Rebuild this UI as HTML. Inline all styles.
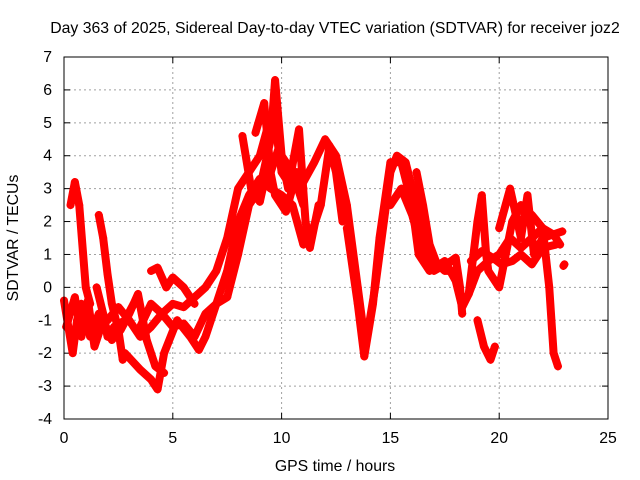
<!DOCTYPE html>
<html><head><meta charset="utf-8"><style>
body{margin:0;background:#fff}
svg{display:block;font-family:"Liberation Sans",sans-serif}
</style></head><body>
<svg id="chart" width="640" height="480" viewBox="0 0 640 480">
<text x="335" y="33" font-size="15.8" text-anchor="middle">Day 363 of 2025, Sidereal Day-to-day VTEC variation (SDTVAR) for receiver joz2</text>
<text x="335" y="471" font-size="15.8" text-anchor="middle">GPS time / hours</text>
<text transform="translate(18,238) rotate(-90)" font-size="15.8" text-anchor="middle">SDTVAR / TECUs</text>
<g id="grid"></g>
<g id="marks"></g>
<rect x="64" y="57" width="544" height="362" fill="none" stroke="#000" stroke-width="1"/>
</svg>
<script>
const xTicks=[0,5,10,15,20,25];
const yTicks=[-4,-3,-2,-1,0,1,2,3,4,5,6,7];
const s1=[[0,-0.4],[0.2,-1.2],[0.4,-2],[0.6,-1],[0.8,-0.5],[1.2,-1.5],[1.6,-0.8],[2,-1],[2.5,-0.6],[3,-1],[3.5,-1.5],[4,-1.2],[4.5,-0.8],[5,-0.5],[5.5,-0.6],[6,-0.3],[6.5,0],[7,0.5],[7.5,1.5],[8,3],[8.5,3.5],[9,4],[9.5,5.2],[9.8,4.5],[10,3.5],[10.5,3],[11,3.2],[11.5,3.8],[12,4.5],[12.5,4],[13,2.5],[13.5,0],[13.8,-1.5],[14,-1.2],[14.3,0],[14.7,2],[15,3.5],[15.3,4],[15.7,3.8],[16,3],[16.5,1.5],[17,0.8],[17.5,0.5],[18,0.5]];
const s2=[[0.3,2.5],[0.5,3.2],[0.7,2.5],[1,0],[1.2,-0.5]];
const s3=[[2.8,-2],[3.5,-2.5],[4,-2.8],[4.3,-3.1],[4.6,-2],[5.2,-1],[5.8,-1.5],[6.2,-1.9],[6.5,-1.5],[7,-0.5],[7.5,0.5],[8,2],[8.5,2.8],[9,3.3],[9.5,3],[10,2.8],[10.5,2.5],[11,1.3],[11.3,1.5],[11.8,2.5],[12.2,4.3],[12.5,3.5],[12.8,2]];
const s4=[[3.5,-1.2],[4,-0.5],[4.5,-0.8],[5,-1.2],[5.5,-1.1],[6,-1.5],[6.5,-0.8],[7,-0.5],[7.5,-0.3],[8,1],[8.5,2.5],[9,3],[9.5,4.5],[9.7,6.3],[10,4],[10.5,3.5],[11,2.5]];
const s5=[[13,1.8],[13.5,-0.5],[13.8,-2.1],[14.2,-0.5],[14.5,1.5],[15,3.8],[15.5,3.8],[16,2.5],[16.3,1],[16.8,0.5],[17.5,0.8],[18,0.2],[18.3,-0.6],[18.6,-0.2],[19,0.5],[19.5,0.8],[20,1],[20.5,1.5],[21,1.2],[21.5,1.5],[22,1.8],[22.5,1.6],[22.8,1.3]];
const s6=[[15,2.5],[15.5,3],[16,2.2],[16.5,1],[17,0.5],[17.8,0.8]];
const s7=[[18.6,-0.2],[19,2],[19.2,2.8],[19.4,1],[19.5,0.5],[20,0],[20.3,1],[20.6,2],[21,2.5],[21.5,2.2],[22,1.8],[22.3,0],[22.5,-2],[22.7,-2.4]];
const s8=[[19,-1],[19.3,-1.8],[19.6,-2.2],[19.8,-1.8]];
const s9=[[20,1.8],[20.5,3],[21,1.5],[21.3,2.8],[21.6,1],[22,1.5],[22.9,1.7]];
const s10=[[1.5,0],[1.8,-0.8],[2,-1.5],[2.3,-1.2],[2.8,-1],[3.2,-0.5]];
const s11=[[4,0.5],[4.3,0.6],[4.7,0],[5,0.3],[5.5,0],[6,-0.5]];
const s12=[[23,0.7],[22.95,0.65]];
const s13=[[1.6,2.2],[1.8,1.5],[2,0.4],[2.2,-0.5],[2.5,-1.3],[2.7,-2.2]];
const s14=[[8.8,4.7],[9.2,5.6],[9.5,3.5],[9.9,4.3],[10.3,3],[10.8,4.8],[11.1,2],[11.3,1.2],[11.7,2.5]];
const s15=[[8.2,4.6],[8.6,3],[9,2.6],[9.4,3.8],[9.7,2.8],[10.2,2.3],[10.7,3.5],[11,3]];
const s16=[[0.1,-1.2],[0.5,-0.3],[0.8,-1.5],[1.1,-0.4],[1.4,-1.8],[1.8,-1],[2.2,-1.6],[2.6,-1.3],[3,-0.8],[3.4,-0.2],[3.8,-1.6],[4.2,-2.4],[4.6,-2.6]];
const s17=[[16.2,3.5],[16.5,2.5],[16.8,1.3],[17.2,0.6],[17.6,0.7],[18,0.9],[18.2,0],[18.3,-0.8]];
const s18=[[18.7,0.8],[19.2,1.1],[19.7,0.9],[20.1,0.7],[20.6,0.8],[21,1],[21.5,0.7],[22,1.2],[22.6,1.3]];
const series=[s1,s2,s3,s4,s5,s6,s7,s8,s9,s10,s11,s12,s13,s14,s15,s16,s17,s18];
const NS="http://www.w3.org/2000/svg";
const X0=64,X1=608,Y0=419,Y1=57;
function sx(v){return X0+(v-0)/(25-0)*(X1-X0);}
function sy(v){return Y0-(v+4)/(11)*(Y0-Y1);}
const grid=document.getElementById('grid');
xTicks.forEach(t=>{
 const x=sx(t);
 if(t>0&&t<25){const l=document.createElementNS(NS,'line');l.setAttribute('x1',x);l.setAttribute('x2',x);l.setAttribute('y1',Y1);l.setAttribute('y2',Y0);l.setAttribute('stroke','#a0a0a0');l.setAttribute('stroke-dasharray','2,3');
 
 grid.appendChild(l);}
 [[Y0,Y0-6],[Y1,Y1+6]].forEach(p=>{const k=document.createElementNS(NS,'line');k.setAttribute('x1',x);k.setAttribute('x2',x);k.setAttribute('y1',p[0]);k.setAttribute('y2',p[1]);k.setAttribute('stroke','#000');
 
 grid.appendChild(k);});
 const tx=document.createElementNS(NS,'text');tx.setAttribute('x',x);tx.setAttribute('y',Y0+24);tx.setAttribute('font-size','15.8');tx.setAttribute('text-anchor','middle');tx.textContent=t;
 
 grid.appendChild(tx);
});
yTicks.forEach(t=>{
 const y=sy(t);
 if(t>-4&&t<7){const l=document.createElementNS(NS,'line');l.setAttribute('x1',X0);l.setAttribute('x2',X1);l.setAttribute('y1',y);l.setAttribute('y2',y);l.setAttribute('stroke','#a0a0a0');l.setAttribute('stroke-dasharray','2,3');
 
 grid.appendChild(l);}
 [[X0,X0+6],[X1,X1-6]].forEach(p=>{const k=document.createElementNS(NS,'line');k.setAttribute('x1',p[0]);k.setAttribute('x2',p[1]);k.setAttribute('y1',y);k.setAttribute('y2',y);k.setAttribute('stroke','#000');
 
 grid.appendChild(k);});
 const tx=document.createElementNS(NS,'text');tx.setAttribute('x',X0-12);tx.setAttribute('y',y+5);tx.setAttribute('font-size','15.8');tx.setAttribute('text-anchor','end');tx.textContent=t;
 
 grid.appendChild(tx);
});
const marks=document.getElementById('marks');
series.forEach((s,i)=>{
 const pl=document.createElementNS(NS,'polyline');
 pl.setAttribute('points',s.map(p=>sx(p[0])+','+sy(p[1])).join(' '));
 pl.setAttribute('fill','none');pl.setAttribute('stroke','#ff0000');pl.setAttribute('stroke-width','8');pl.setAttribute('stroke-linejoin','round');pl.setAttribute('stroke-linecap','round');
 
 
 marks.appendChild(pl);
 s.forEach(p=>{
  const x=sx(p[0]),y=sy(p[1]);
  const m=document.createElementNS(NS,'path');
  m.setAttribute('d','M'+(x-4)+','+y+'H'+(x+4)+'M'+x+','+(y-4)+'V'+(y+4));
  m.setAttribute('stroke','#ff0000');m.setAttribute('stroke-width','1.2');
  
  
  marks.appendChild(m);
 });
});
</script>
</body></html>
